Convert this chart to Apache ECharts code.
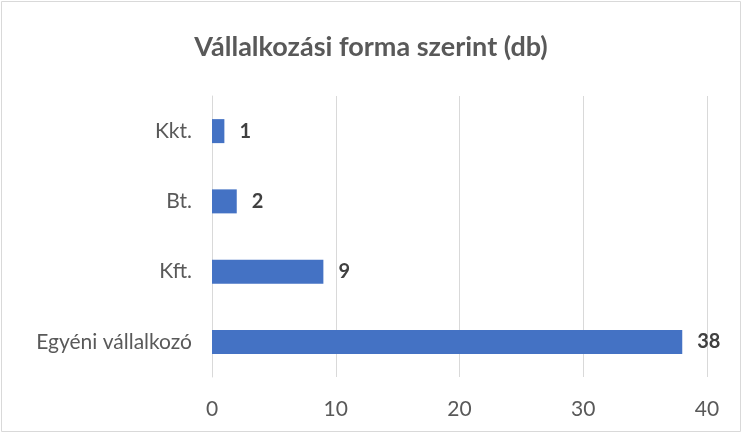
<!DOCTYPE html>
<html>
<head>
<meta charset="utf-8">
<script src="https://cdn.jsdelivr.net/npm/echarts@6/dist/echarts.min.js"></script>
<style>
  html, body { margin: 0; padding: 0; background: #fff; }
  #chart { width: 742px; height: 433px; }
</style>
</head>
<body>
<div id="chart"></div>
<script>
  // adatok (alulról felfelé)
  var categories = ['Egyéni vállalkozó', 'Kft.', 'Bt.', 'Kkt.']
  var counts = [38, 9, 2, 1]
  var xTicks = [0, 10, 20, 30, 40]

  var font = 'Lato, "Open Sans", sans-serif'
  var chart = echarts.init(document.getElementById('chart'))

  var option = {
    animation: false,
    textStyle: { fontFamily: font },
    title: {
      text: 'Vállalkozási forma szerint (db)',
      left: 'center',
      top: 29,
      textStyle: { color: '#595959', fontSize: 27, fontWeight: 'bold', fontFamily: font }
    },
    graphic: [{
      type: 'rect',
      shape: { x: 1.5, y: 1.5, width: 739, height: 430 },
      style: { fill: 'none', stroke: '#d9d9d9', lineWidth: 1 },
      silent: true
    }],
    grid: { left: 212, right: 35, top: 96, bottom: 56 },
    xAxis: {
      type: 'value',
      min: xTicks[0],
      max: xTicks[xTicks.length - 1],
      interval: 10,
      axisLine: { show: false },
      axisTick: { show: false },
      axisLabel: { color: '#595959', fontSize: 21, margin: 22, fontFamily: font },
      splitLine: { show: true, lineStyle: { color: '#d9d9d9', width: 1 } }
    },
    yAxis: {
      type: 'category',
      data: categories,
      axisLine: { show: true, lineStyle: { color: '#d9d9d9' } },
      axisTick: { show: false },
      axisLabel: { color: '#595959', fontSize: 21, margin: 20, fontFamily: font }
    },
    series: [{
      type: 'bar',
      data: counts,
      barWidth: 24,
      itemStyle: { color: '#4472c4' },
      label: {
        show: true,
        position: 'right',
        distance: 15,
        color: '#404040',
        fontSize: 20,
        fontWeight: 'bold',
        fontFamily: font
      }
    }]
  }
  chart.setOption(option)
</script>
</body>
</html>
